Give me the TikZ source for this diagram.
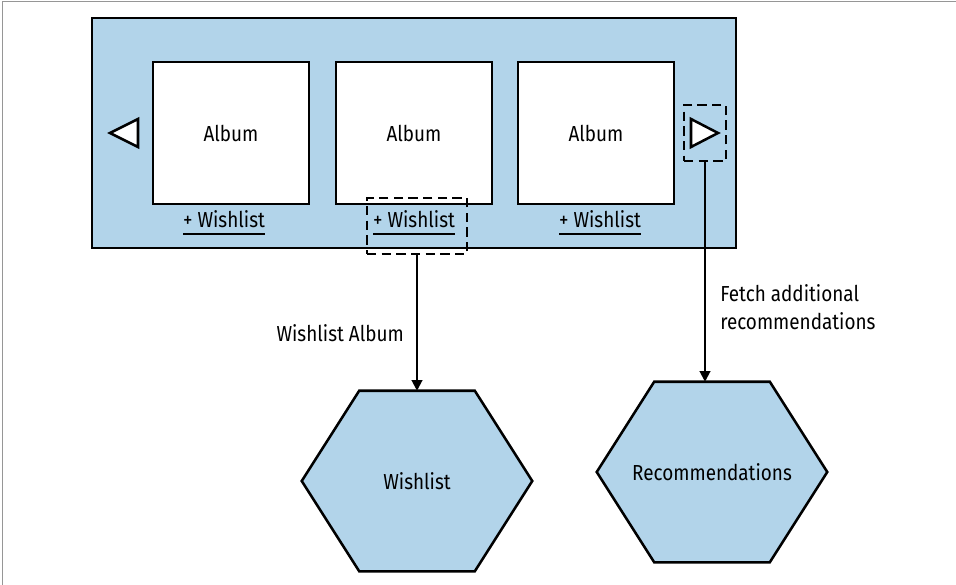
\documentclass[tikz,border=0pt]{standalone}
\usepackage{fontspec}
\setmainfont{Fira Sans}[FakeStretch=0.87]
\usetikzlibrary{arrows.meta}
\usetikzlibrary{backgrounds}
\definecolor{paneblue}{RGB}{178,212,234}
\definecolor{framegray}{RGB}{150,150,150}
\newcommand{\linktext}[1]{\setbox0=\hbox{#1}\rlap{\rule[-5.5pt]{\wd0}{1.6pt}}\box0}
\newcommand{\hexagonof}[1]{%
  \draw [hexline] (#1.west) -- ([xshift=43.1pt]#1.north west) -- ([xshift=-43.1pt]#1.north east)
    -- (#1.east) -- ([xshift=-43.1pt]#1.south east) -- ([xshift=43.1pt]#1.south west) -- cycle;}
\tikzset{
  panel/.style={draw, line width=1.9pt, fill=paneblue, minimum width=483pt, minimum height=172.5pt, inner sep=0pt},
  album/.style={draw, line width=1.9pt, fill=white, minimum width=117pt, minimum height=106.5pt, inner sep=0pt},
  hotspot/.style={draw, line width=1.9pt, dash pattern=on 7pt off 4pt, minimum width=#1, minimum height=42pt, inner sep=0pt},
  service/.style={minimum width=172.5pt, minimum height=135pt, inner sep=0pt},
  hexline/.style={draw, line width=1.9pt, fill=paneblue, line join=miter},
  pager/.style={draw, line width=1.9pt, fill=white, line join=miter},
  flow/.style={line width=1.5pt, -{Triangle[length=8pt,width=8pt]}}
}
\begin{document}
\begin{tikzpicture}[x=0.75pt,y=0.75pt,yscale=-1,xscale=1,every node/.style={font=\fontsize{16.3}{21}\selectfont}]
\useasboundingbox (0,0) rectangle (956,585);
% frame
\draw [framegray, line width=0.75pt] (2,585) -- (2,2) -- (956,2);

% carousel
\node [panel] (carousel) at (414,133) {};
\node [album] (album1) at (231,133) {Album};
\node [album] (album2) at (414,133) {Album};
\node [album] (album3) at (596,133) {Album};
\draw [pager] (110,133) -- (138,119) -- (138,147) -- cycle;
\draw [pager] (718,133) -- (691,119) -- (691,147) -- cycle;

% wishlist links
\node [inner sep=1pt] (wl1) at (224,223) {\linktext{+ Wishlist}};
\node [inner sep=1pt] (wl2) at (414,223) {\linktext{+ Wishlist}};
\node [inner sep=1pt] (wl3) at (600,223) {\linktext{+ Wishlist}};

% dashed hotspots
\node [hotspot=75pt] (wlbox) at (417,226) {};
\node [hotspot=31.5pt] (nextbox) at (705,133) {};

% services
\node [service] (wish) at (417,481) {Wishlist};
\node [service] (reco) at (712,472) {Recommendations};
\begin{scope}[on background layer]
  \hexagonof{wish}
  \hexagonof{reco}
\end{scope}

% calls
\draw [flow] (wlbox.south) -- (wlbox.south |- wish.north);
\draw [flow] (nextbox.south) -- (nextbox.south |- reco.north);

% labels
\node [anchor=east, inner sep=0pt] (addlbl) at (404,333) {Wishlist Album};
\node [anchor=west, align=left, inner sep=0pt] (fetchlbl) at (720,307) {Fetch additional\\recommendations};

\end{tikzpicture}
\end{document}
